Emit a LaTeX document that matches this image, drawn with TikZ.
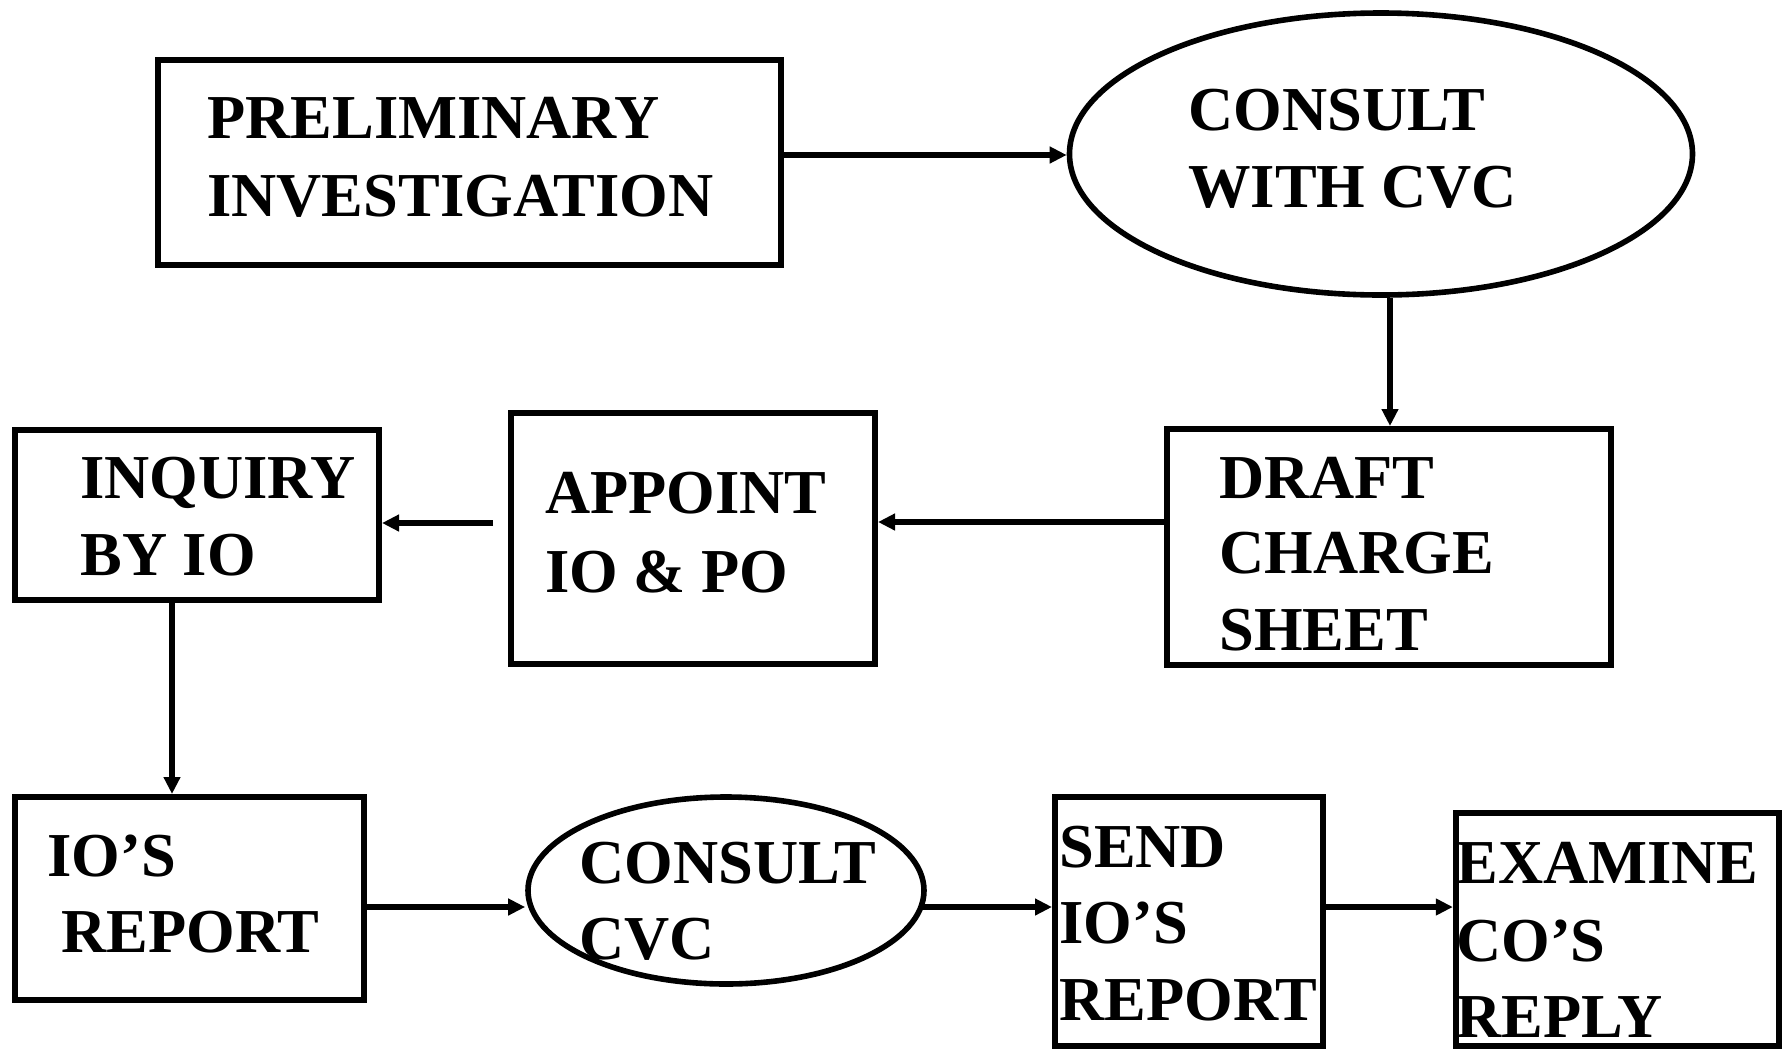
\documentclass[tikz,border=0pt]{standalone}
\usepackage{fontspec}
\setmainfont{Liberation Serif}
\usetikzlibrary{shapes.geometric,arrows.meta}
\tikzset{
  box/.style={draw, line width=3pt, rectangle, inner sep=0pt},
  oval/.style={draw, line width=2.8pt, ellipse, inner sep=0pt},
  lbl/.style={anchor=base west, inner sep=0pt, font=\fontsize{31.25}{38.5}\selectfont\bfseries},
  arr/.style={line width=2.7pt, -{Triangle[length=8.5pt,width=8pt]}}
}
\begin{document}
\begin{tikzpicture}[x=0.5pt,y=-0.5pt]
\useasboundingbox (0,0) rectangle (1785,1051);
% shapes
\node[box, minimum width=311.5pt, minimum height=102.5pt] (b1) at (469.5,162.5) {};
\node[oval, minimum width=311.5pt, minimum height=141pt] (e1) at (1381,154) {};
\node[box, minimum width=222pt, minimum height=118pt] (draft) at (1389,547) {};
\node[box, minimum width=182pt, minimum height=125.5pt] (appoint) at (693,538.5) {};
\node[box, minimum width=182.25pt, minimum height=85pt] (inq) at (196.75,514.7) {};
\node[box, minimum width=174.35pt, minimum height=101.5pt] (ior) at (189.35,898.5) {};
\node[oval, minimum width=198pt, minimum height=93.5pt] (e2) at (726,890.5) {};
\node[box, minimum width=134pt, minimum height=124.5pt] (send) at (1189,921.5) {};
\node[box, minimum width=161.5pt, minimum height=116.5pt] (exam) at (1617.35,929.5) {};
% texts
\node[lbl] (t1a) at (207,138) {PRELIMINARY};
\node[lbl] (t1b) at (207,216) {INVESTIGATION};
\node[lbl] (t2a) at (1188,130) {CONSULT};
\node[lbl] (t2b) at (1188,207) {WITH CVC};
\node[lbl] (t3a) at (1219,498) {DRAFT};
\node[lbl] (t3b) at (1219,573) {CHARGE};
\node[lbl] (t3c) at (1219,650) {SHEET};
\node[lbl] (t4a) at (545,513) {APPOINT};
\node[lbl] (t4b) at (545,592) {IO \& PO};
\node[lbl] (t5a) at (80,498) {INQUIRY};
\node[lbl] (t5b) at (80,575) {BY IO};
\node[lbl] (t6a) at (47,876) {IO’S};
\node[lbl] (t6b) at (61,952) {REPORT};
\node[lbl] (t7a) at (579,883) {CONSULT};
\node[lbl] (t7b) at (579,959) {CVC};
\node[lbl] (t8a) at (1059,867) {SEND};
\node[lbl] (t8b) at (1059,943) {IO’S};
\node[lbl] (t8c) at (1059,1020) {REPORT};
\node[lbl] (t9a) at (1456,883) {EXAMINE};
\node[lbl] (t9b) at (1456,961) {CO’S};
\node[lbl] (t9c) at (1456,1037) {REPLY};
% connectors
\draw[arr] (b1.east |- 0,155) -- (e1.west |- 0,155);
\draw[arr] ([xshift=4.5pt]e1.south) -- ([xshift=4.5pt]e1.south |- draft.north);
\draw[arr] (draft.west |- 0,522) -- (appoint.east |- 0,522);
\draw[arr] ([xshift=-7.5pt]appoint.west |- 0,523) -- (inq.east |- 0,523);
\draw[arr] (inq.south -| 172,0) -- (ior.north -| 172,0);
\draw[arr] (ior.east |- 0,907) -- (e2.west |- 0,907);
\draw[arr] ([xshift=-2pt]e2.east |- 0,907) -- (send.west |- 0,907);
\draw[arr] (send.east |- 0,907) -- (exam.west |- 0,907);
\end{tikzpicture}
\end{document}
